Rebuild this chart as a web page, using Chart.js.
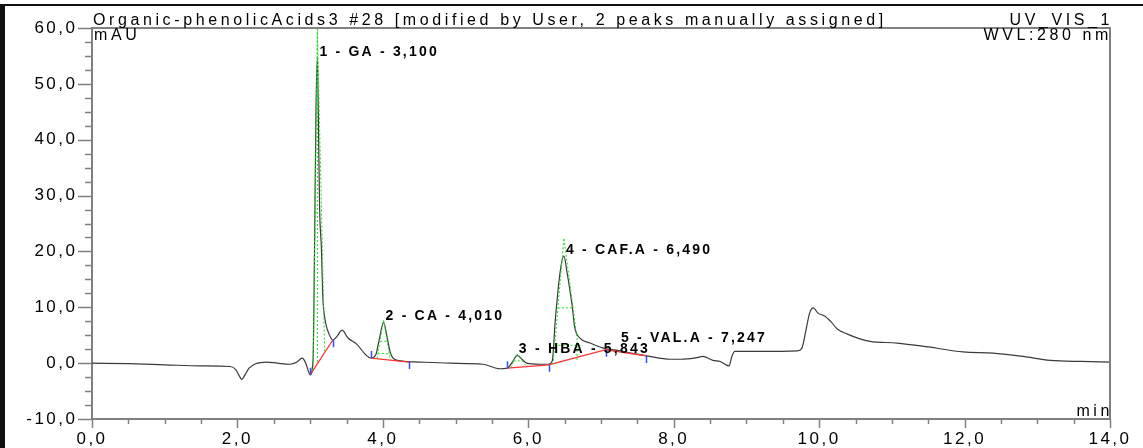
<!DOCTYPE html>
<html>
<head>
<meta charset="utf-8">
<title>Organic-phenolicAcids3 #28</title>
<script src="https://cdn.jsdelivr.net/npm/chart.js@4.4.1/dist/chart.umd.min.js"></script>
<style>
  html, body { margin: 0; padding: 0; background: #fff; }
  #wrap { position: relative; width: 1143px; height: 448px; overflow: hidden; }
  #wrap canvas { position: absolute; left: 0; top: 0; }
  #frame { position: absolute; left: 0; top: 4px; width: 1143px; height: 444px; border-left: 5px solid #111; border-top: 2px solid #111; box-sizing: border-box; pointer-events: none; }
</style>
</head>
<body>
<div id="wrap">
  <canvas id="chrom" width="1143" height="448"></canvas>
  <div id="frame"></div>
</div>
<script>
// chromatogram trace: retention time (min) and signal (mAU)
const traceTime = [0.00, 0.50, 1.00, 1.50, 1.90, 1.98, 2.03, 2.06, 2.10, 2.16, 2.25, 2.40, 2.55, 2.72, 2.82, 2.89, 2.94, 2.98,
  3.00, 3.04, 3.06, 3.08, 3.10, 3.115, 3.13, 3.155, 3.175, 3.20, 3.235, 3.29, 3.31, 3.37, 3.44, 3.52, 3.64, 3.78,
  3.84, 3.90, 3.95, 4.01, 4.06, 4.10, 4.14, 4.24, 4.50, 4.92, 5.38, 5.61, 5.71, 5.78, 5.85, 5.92, 5.98, 6.16,
  6.28, 6.33, 6.37, 6.44, 6.49, 6.53, 6.60, 6.64, 6.71, 6.85, 7.03, 7.26, 7.45, 7.63, 7.95, 8.10, 8.32, 8.40,
  8.54, 8.64, 8.72, 8.76, 8.80, 8.84, 8.95, 9.30, 9.70, 9.76, 9.82, 9.87, 9.92, 9.98, 10.08, 10.17, 10.25, 10.39,
  10.55, 10.70, 11.07, 11.50, 11.98, 12.39, 12.80, 13.18, 13.60, 14.00];
const traceSignal = [0.0, -0.1, -0.3, -0.5, -0.6, -1.2, -2.4, -2.9, -2.2, -0.9, -0.1, 0.2, 0.0, -0.2, 0.2, 0.9, 0.0, -1.6,
  -2.1, 0.5, 20, 45, 54.7, 42, 27.8, 20.6, 11.7, 8.2, 6.1, 4.4, 4.1, 4.8, 5.9, 4.5, 3.4, 1.3,
  0.9, 1.4, 4.2, 7.3, 4.5, 2.0, 0.9, 0.4, 0.2, 0.0, -0.2, -1.0, -0.9, 0.2, 1.4, 0.6, 0.0, -0.2,
  -0.2, 0.4, 7.5, 16.5, 19.2, 16.5, 10.6, 6.3, 4.5, 3.6, 2.7, 2.2, 1.7, 1.3, 0.7, 0.7, 1.0, 1.2,
  0.5, 0.3, -0.3, -0.5, 1.2, 2.1, 2.1, 2.1, 2.2, 2.6, 6.0, 9.0, 9.9, 9.0, 8.4, 7.3, 6.1, 5.2,
  4.4, 3.9, 3.6, 2.9, 2.0, 1.8, 1.2, 0.5, 0.3, 0.2];

// identified peaks
const peakNames = ['GA', 'CA', 'HBA', 'CAF.A', 'VAL.A'];
const peakTimes = [3.100, 4.010, 5.843, 6.490, 7.247];
const peakHeights = [54.7, 7.3, 1.4, 19.2, 3.4];

// integration baselines: start and end of each peak [min, mAU]
const baseStart = [[3.00, -2.1], [3.84, 0.9], [5.71, -0.9], [6.28, -0.3], [7.07, 2.4]];
const baseEnd = [[3.31, 4.1], [4.36, 0.2], [6.28, -0.3], [7.07, 2.4], [7.62, 1.3]];

// peak tangents / width lines
const tangentLines = [
  [[3.10, 60], [3.10, -0.2]],
  [[3.04, -1.3], [3.10, 60], [3.20, 1.8]],
  [[3.075, 27], [3.135, 27]],
  [[3.92, 0.8], [4.01, 7.8], [4.10, 0.6]],
  [[3.965, 3.9], [4.055, 3.9]],
  [[3.93, 1.8], [4.12, 1.6]],
  [[5.76, -0.8], [5.843, 1.7], [5.97, -0.5]],
  [[5.80, 0.4], [5.92, 0.4]],
  [[6.34, -0.3], [6.49, 22.4], [6.67, 4.5], [6.67, 0.3]],
  [[6.41, 9.9], [6.62, 9.9]],
  [[6.36, 3.2], [6.75, 3.2]]
];

const xMin = 0, xMax = 14, xStep = 0.5, xLabelEvery = 2;
const yMin = -10, yMax = 60, yStep = 2.5, yLabelEvery = 10;

const FONT = '"Liberation Sans", Arial, sans-serif';

function fmt(v) {
  return v.toFixed(1).replace('.', ',');
}
function isMultiple(v, m) {
  const r = Math.abs(v / m - Math.round(v / m));
  return r < 1e-6;
}

// build line data with gaps between segments
const traceData = traceTime.map((t, i) => ({ x: t, y: traceSignal[i] }));
const baseData = [];
for (let i = 0; i < baseStart.length; i++) {
  baseData.push({ x: baseStart[i][0], y: baseStart[i][1] });
  baseData.push({ x: baseEnd[i][0], y: baseEnd[i][1] });
  baseData.push({ x: baseEnd[i][0], y: null });
}
const tangentData = [];
tangentLines.forEach(seg => {
  seg.forEach(p => tangentData.push({ x: p[0], y: p[1] }));
  tangentData.push({ x: seg[seg.length - 1][0], y: null });
});

// tick marks (long for labelled, short for minor), plot frame, texts
const decorations = {
  id: 'decorations',
  beforeDraw(chart) {
    chart.ctx.letterSpacing = '2.5px';
  },
  afterDraw(chart) {
    const ctx = chart.ctx;
    const area = chart.chartArea;
    const xs = chart.scales.x, ys = chart.scales.y;
    ctx.save();
    ctx.strokeStyle = '#808080';
    ctx.lineWidth = 1.5;
    ctx.beginPath();
    xs.ticks.forEach(t => {
      const px = Math.round(xs.getPixelForValue(t.value)) + 0.5;
      const len = isMultiple(t.value, xLabelEvery) ? 9 : 5;
      ctx.moveTo(px, area.bottom);
      ctx.lineTo(px, area.bottom + len);
    });
    ys.ticks.forEach(t => {
      const py = Math.round(ys.getPixelForValue(t.value)) + 0.5;
      const len = isMultiple(t.value, yLabelEvery) ? 14 : 7;
      ctx.moveTo(area.left - len, py);
      ctx.lineTo(area.left, py);
    });
    ctx.stroke();
    // top and right border of the plot
    ctx.lineWidth = 2;
    ctx.beginPath();
    ctx.moveTo(area.left, area.top);
    ctx.lineTo(area.right, area.top);
    ctx.lineTo(area.right, area.bottom);
    ctx.stroke();

    // peak delimiters
    ctx.strokeStyle = '#3050ff';
    ctx.lineWidth = 1.5;
    ctx.beginPath();
    baseStart.forEach(p => {
      if (baseEnd.some(e => e[0] === p[0])) return;
      const px = Math.round(xs.getPixelForValue(p[0])) + 0.5;
      const py = ys.getPixelForValue(p[1]);
      ctx.moveTo(px, py);
      ctx.lineTo(px, py - 7);
    });
    baseEnd.forEach(p => {
      const px = Math.round(xs.getPixelForValue(p[0])) + 0.5;
      const py = ys.getPixelForValue(p[1]);
      ctx.moveTo(px, py);
      ctx.lineTo(px, py + 7);
    });
    ctx.stroke();

    // header texts
    ctx.fillStyle = '#000';
    ctx.textBaseline = 'alphabetic';
    ctx.font = '16px ' + FONT;
    ctx.letterSpacing = '3.6px';
    ctx.textAlign = 'left';
    ctx.fillText('Organic-phenolicAcids3 #28 [modified by User, 2 peaks manually assigned]', area.left + 1, 25);
    ctx.fillText('mAU', area.left + 2, 40);
    ctx.textAlign = 'right';
    ctx.fillText('UV_VIS_1', area.right + 3, 25);
    ctx.fillText('WVL:280 nm', area.right + 2, 40);
    ctx.fillText('min', area.right + 3, area.bottom - 3);

    // peak labels
    ctx.font = 'bold 14px ' + FONT;
    ctx.letterSpacing = '2.2px';
    ctx.textAlign = 'left';
    peakTimes.forEach((t, i) => {
      const px = xs.getPixelForValue(t);
      const py = ys.getPixelForValue(peakHeights[i]);
      const label = (i + 1) + ' - ' + peakNames[i] + ' - ' + t.toFixed(3).replace('.', ',');
      ctx.fillText(label, px + 2, py - 2);
    });
    ctx.restore();
  }
};

new Chart(document.getElementById('chrom'), {
  type: 'line',
  data: {
    datasets: [
      {
        data: tangentData,
        borderColor: '#22dd22',
        borderWidth: 1,
        borderDash: [2, 2],
        pointRadius: 0,
        tension: 0,
        spanGaps: false
      },
      {
        data: baseData,
        borderColor: '#ff3333',
        borderWidth: 1.3,
        pointRadius: 0,
        tension: 0,
        spanGaps: false
      },
      {
        data: traceData,
        borderColor: '#3a3a3a',
        borderWidth: 1.2,
        pointRadius: 0,
        cubicInterpolationMode: 'monotone'
      }
    ]
  },
  options: {
    responsive: false,
    animation: false,
    layout: { padding: { top: 28, right: 33, left: 0, bottom: 0 } },
    plugins: { legend: { display: false }, tooltip: { enabled: false } },
    scales: {
      x: {
        type: 'linear',
        min: xMin,
        max: xMax,
        afterFit(scale) { scale.height = 29; },
        border: { color: '#808080', width: 2 },
        grid: { drawOnChartArea: false, drawTicks: false },
        ticks: {
          stepSize: xStep,
          autoSkip: false,
          maxTicksLimit: 100,
          maxRotation: 0,
          padding: 10,
          color: '#000',
          font: { family: FONT, size: 17 },
          callback: v => isMultiple(v, xLabelEvery) ? fmt(v) : ''
        }
      },
      y: {
        type: 'linear',
        min: yMin,
        max: yMax,
        afterFit(scale) { scale.width = 92; },
        border: { color: '#808080', width: 2 },
        grid: { drawOnChartArea: false, drawTicks: false },
        ticks: {
          stepSize: yStep,
          autoSkip: false,
          maxTicksLimit: 100,
          padding: 14.5,
          color: '#000',
          font: { family: FONT, size: 17 },
          callback: v => isMultiple(v, yLabelEvery) ? fmt(v) : ''
        }
      }
    }
  },
  plugins: [decorations]
});
</script>
</body>
</html>
